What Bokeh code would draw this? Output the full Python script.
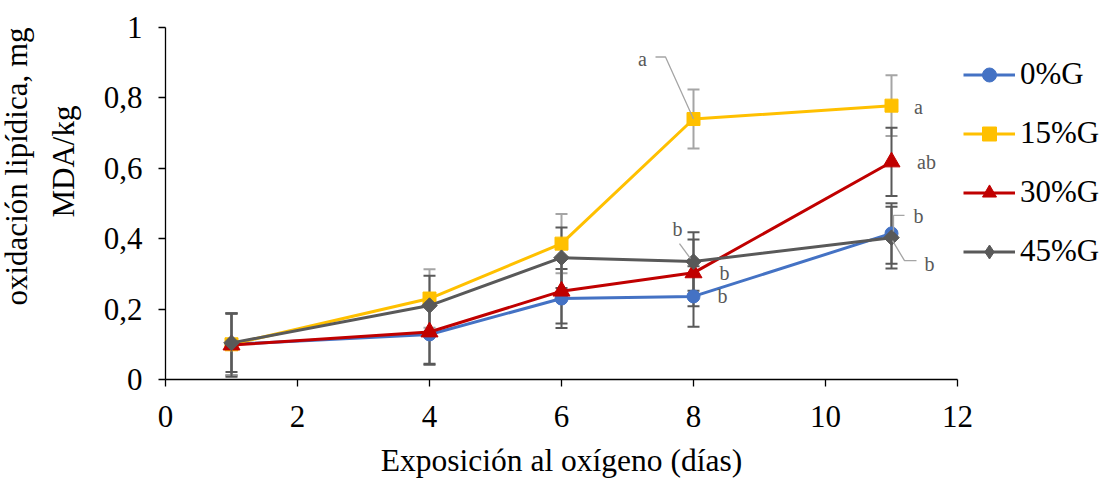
import numpy as np
from bokeh.plotting import figure
from bokeh.models import (Range1d, FixedTicker, Whisker, TeeHead, ColumnDataSource,
                          Legend, LegendItem, Title)
from bokeh.embed import file_html
from bokeh.resources import INLINE
from bokeh.core.properties import value

# ---------------- data ----------------
days = [1, 4, 6, 8, 11]
series_names = ["0%G", "15%G", "30%G", "45%G"]
g0 = [0.100, 0.128, 0.230, 0.236, 0.415]
g15 = [0.100, 0.230, 0.386, 0.740, 0.778]
g30 = [0.098, 0.135, 0.251, 0.303, 0.618]
g45 = [0.104, 0.210, 0.346, 0.335, 0.403]
err0 = [0.088, 0.086, 0.084, 0.086, 0.086]
err15 = [0.088, 0.083, 0.084, 0.084, 0.086]
err30 = [0.090, 0.090, 0.092, 0.095, 0.097]
err45 = [0.083, 0.085, 0.086, 0.083, 0.088]
letters_day8 = ["b", "a", "b", "b"]
letters_day11 = ["b", "a", "ab", "b"]
x_ticks = [0, 2, 4, 6, 8, 10, 12]
y_ticks = [0, 0.2, 0.4, 0.6, 0.8, 1.0]
y_tick_labels = ["0", "0,2", "0,4", "0,6", "0,8", "1"]
x_title = "Exposición al oxígeno (días)"
y_title = ["oxidación lipídica, mg", "MDA/kg"]

values = [g0, g15, g30, g45]
errors = [err0, err15, err30, err45]

# ---------------- style ----------------
FONT = "Liberation Serif"
colors = ["#4472C4", "#FFC000", "#C00000", "#595959"]
err_colors = ["#595959", "#A5A5A5", "#595959", "#595959"]
markers = [("circle", 13, 0), ("square", 13, 0), ("triangle", 17, 0), ("square", 11, np.pi / 4)]
legend_markers = [("circle", 13), ("square", 13), ("triangle", 17), ("diamond", 19)]

W, H = 1105, 478
L, R, T, B = 165, 148, 27, 99
FW, FH = W - L - R, H - T - B
xmin, xmax, ymin, ymax = 0, 12, 0, 1
px_x = FW / (xmax - xmin)
px_y = FH / (ymax - ymin)

p = figure(frame_width=FW, frame_height=FH, x_range=Range1d(xmin, xmax), y_range=Range1d(ymin, ymax),
           output_backend="svg", toolbar_location=None,
           min_border_left=L, min_border_right=R, min_border_top=T, min_border_bottom=B)
p.outline_line_color = None
p.grid.visible = False
p.background_fill_color = "white"

for ax in (p.xaxis[0], p.yaxis[0]):
    ax.axis_line_color = "black"
    ax.axis_line_width = 1.3
    ax.major_tick_line_color = "black"
    ax.major_tick_line_width = 1.3
    ax.major_tick_out = 7
    ax.major_tick_in = 0
    ax.minor_tick_line_color = None
    ax.major_label_text_font = FONT
    ax.major_label_text_font_size = "31px"
    ax.major_label_text_color = "black"

p.xaxis.ticker = FixedTicker(ticks=x_ticks)
p.yaxis.ticker = FixedTicker(ticks=y_ticks)
p.yaxis.major_label_overrides = {t: lab for t, lab in zip(y_ticks, y_tick_labels)}
p.xaxis.major_label_standoff = 19
p.yaxis.major_label_standoff = 16

p.xaxis.axis_label = x_title
p.xaxis.axis_label_text_font = FONT
p.xaxis.axis_label_text_font_size = "31.5px"
p.xaxis.axis_label_text_font_style = "normal"
p.xaxis.axis_label_text_color = "black"
p.xaxis.axis_label_standoff = 13

# y-axis title, two lines, as side titles (inner first)
title_kw = dict(text_font=FONT, text_font_style="normal", text_color="black",
                text_font_size="31px")
p.add_layout(Title(text=y_title[1], align="left", offset=162, standoff=39, **title_kw), "left")
p.add_layout(Title(text=y_title[0], align="left", offset=74, standoff=-19, **title_kw), "left")

# error bars
for vals, errs, ec in zip(values, errors, err_colors):
    src = ColumnDataSource(dict(x=days, upper=[v + e for v, e in zip(vals, errs)],
                                lower=[v - e for v, e in zip(vals, errs)]))
    w = Whisker(base="x", upper="upper", lower="lower", source=src,
                line_color=ec, line_width=2,
                upper_head=TeeHead(size=12, line_color=ec, line_width=2),
                lower_head=TeeHead(size=12, line_color=ec, line_width=2))
    p.add_layout(w)

items = []
for name, vals, c, (mk, sz, ang), (lmk, lsz) in zip(series_names, values, colors, markers, legend_markers):
    lr = p.line(days, vals, line_color=c, line_width=3)
    p.scatter(days, vals, marker=mk, size=sz, angle=ang, fill_color=c, line_color=c)
    # marker used only for the legend swatch (no visible points)
    leg_r = p.scatter([np.nan], [np.nan], marker=lmk, size=lsz, fill_color=c, line_color=c)
    items.append(LegendItem(label=name, renderers=[lr, leg_r]))

# significance letters (offsets in screen px: dx right, dy down, baseline)
off8 = [(29, 0), (-51, -60), (31, 0), (-16, -33)]
off11 = [(27, -17), (27, 1), (35, 0), (38, 26)]
for i in range(4):
    for d_idx, letters, offs in ((3, letters_day8, off8), (4, letters_day11, off11)):
        dx, dy = offs[i]
        p.text(x=[days[d_idx]], y=[values[i][d_idx]], text=[letters[i]],
               x_offset=dx, y_offset=dy, text_font=value(FONT), text_font_size="20px",
               text_color="#595959", text_align="center", text_baseline="alphabetic")

# leader lines (px offsets from data point)
leaders = [
    (1, 3, [(0, 0), (-28, -62), (-38, -62)]),
    (3, 3, [(-3, -3), (-14, -18)]),
    (0, 4, [(2, -2), (2, -18), (13, -18)]),
    (3, 4, [(1, 3), (13, 23), (25, 23)]),
]
for si, di, pts in leaders:
    x0, y0 = days[di], values[si][di]
    xs = [x0 + dx / px_x for dx, dy in pts]
    ys = [y0 - dy / px_y for dx, dy in pts]
    p.line(xs, ys, line_color="#A5A5A5", line_width=1.3)

legend = Legend(items=items, location="top_left", orientation="vertical",
                title=" ", title_text_font_size="16px", title_standoff=5,
                border_line_color=None, background_fill_alpha=0, padding=0, margin=6,
                glyph_width=52, glyph_height=35, label_height=35, spacing=23,
                label_standoff=5, label_text_font=FONT, label_text_font_size="31px",
                label_text_color="black")
p.add_layout(legend, "right")

open("out.html", "w").write(file_html(p, INLINE))
